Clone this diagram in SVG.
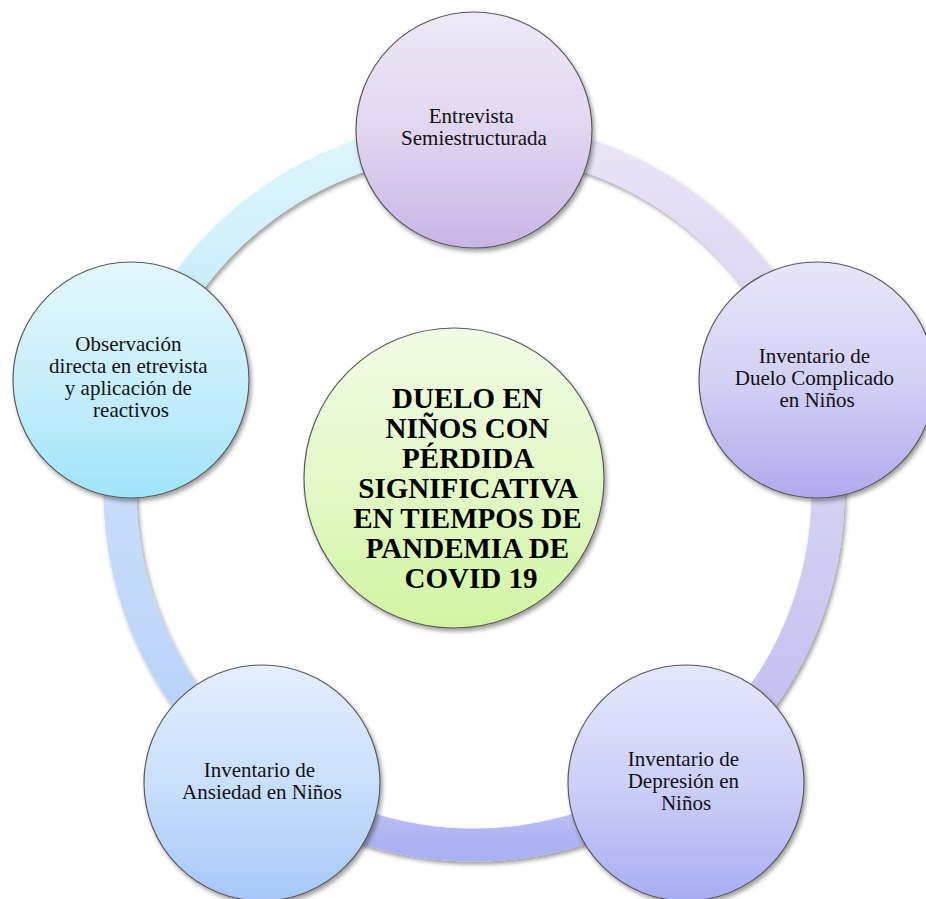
<svg xmlns="http://www.w3.org/2000/svg" width="926" height="899" viewBox="0 0 926 899">
  <defs>
    <filter id="shadow" filterUnits="userSpaceOnUse" x="0" y="0" width="926" height="899">
      <feDropShadow dx="2" dy="3" stdDeviation="2.2" flood-color="#000" flood-opacity="0.38"/>
    </filter>
    <!-- node fills -->
    <linearGradient id="gTop" x1="0" y1="0" x2="0" y2="1">
      <stop offset="0" stop-color="#efe9f7"/>
      <stop offset="0.5" stop-color="#e1d6f0"/>
      <stop offset="1" stop-color="#c8b6e6"/>
    </linearGradient>
    <linearGradient id="gRight" x1="0" y1="0" x2="0" y2="1">
      <stop offset="0" stop-color="#e8e6f9"/>
      <stop offset="0.5" stop-color="#d4d0f4"/>
      <stop offset="1" stop-color="#b1a9ee"/>
    </linearGradient>
    <linearGradient id="gBR" x1="0" y1="0" x2="0" y2="1">
      <stop offset="0" stop-color="#e5e8fc"/>
      <stop offset="0.5" stop-color="#cdd0f7"/>
      <stop offset="1" stop-color="#a8adf2"/>
    </linearGradient>
    <linearGradient id="gBL" x1="0" y1="0" x2="0" y2="1">
      <stop offset="0" stop-color="#e4effd"/>
      <stop offset="0.5" stop-color="#cadffb"/>
      <stop offset="1" stop-color="#a6c8f7"/>
    </linearGradient>
    <linearGradient id="gLeft" x1="0" y1="0" x2="0" y2="1">
      <stop offset="0" stop-color="#e4f7fd"/>
      <stop offset="0.5" stop-color="#c8effb"/>
      <stop offset="1" stop-color="#a0e4f9"/>
    </linearGradient>
    <linearGradient id="gCenter" x1="0" y1="0" x2="0" y2="1">
      <stop offset="0" stop-color="#f2fbe6"/>
      <stop offset="0.5" stop-color="#e3f9c8"/>
      <stop offset="1" stop-color="#d2f5a2"/>
    </linearGradient>
    <!-- ring segment fills -->
    <linearGradient id="aTL" x1="0" y1="0" x2="0" y2="1">
      <stop offset="0" stop-color="#def5fc"/>
      <stop offset="1" stop-color="#bfebfa"/>
    </linearGradient>
    <linearGradient id="aTR" x1="0" y1="0" x2="0" y2="1">
      <stop offset="0" stop-color="#ebe5f7"/>
      <stop offset="1" stop-color="#d8cdee"/>
    </linearGradient>
    <linearGradient id="aR" x1="0" y1="0" x2="0" y2="1">
      <stop offset="0" stop-color="#dddbf7"/>
      <stop offset="1" stop-color="#bfbaef"/>
    </linearGradient>
    <linearGradient id="aB" x1="0" y1="0" x2="0" y2="1">
      <stop offset="0" stop-color="#cdd0f8"/>
      <stop offset="1" stop-color="#abb1f2"/>
    </linearGradient>
    <linearGradient id="aL" x1="0" y1="0" x2="0" y2="1">
      <stop offset="0" stop-color="#d2e3fc"/>
      <stop offset="1" stop-color="#b4d0f8"/>
    </linearGradient>
  </defs>
  <style>
    .arc { fill: none; stroke-width: 33; filter: url(#shadow); }
    .node { stroke: #5a5a5a; stroke-width: 1.2; filter: url(#shadow); }
    .label { font-family: "Liberation Serif", "Times New Roman", serif; font-size: 21px; fill: #111; text-anchor: middle; }
    .title { font-family: "Liberation Serif", "Times New Roman", serif; font-size: 29px; font-weight: bold; fill: #000; text-anchor: middle; }
  </style>

  <rect width="926" height="899" fill="#ffffff"/>

  <!-- ring arcs between the outer nodes (center 474,491) -->
  <g id="connectors">
    <path class="arc" stroke="url(#aTL)" d="M 137.3 381.6 A 354 354 0 0 1 474 137"/>
    <path class="arc" stroke="url(#aTR)" d="M 474 137 A 354 354 0 0 1 810.7 381.6"/>
    <path class="arc" stroke="url(#aR)" d="M 810.7 381.6 A 354 354 0 0 1 682.1 777.4"/>
    <path class="arc" stroke="url(#aB)" d="M 682.1 777.4 A 354 354 0 0 1 265.9 777.4"/>
    <path class="arc" stroke="url(#aL)" d="M 265.9 777.4 A 354 354 0 0 1 137.3 381.6"/>
  </g>

  <g id="node-center">
    <circle class="node" cx="454" cy="478" r="150" fill="url(#gCenter)"/>
    <text class="title">
      <tspan x="471" y="408">DUELO EN</tspan>
      <tspan x="471" y="438">NIÑOS CON</tspan>
      <tspan x="471" y="468">PÉRDIDA</tspan>
      <tspan x="471" y="498">SIGNIFICATIVA</tspan>
      <tspan x="471" y="528">EN TIEMPOS DE</tspan>
      <tspan x="471" y="558">PANDEMIA DE</tspan>
      <tspan x="471" y="588">COVID 19</tspan>
    </text>
  </g>

  <g id="node-entrevista">
    <circle class="node" cx="474" cy="130" r="118" fill="url(#gTop)"/>
    <text class="label">
      <tspan x="474" y="123">Entrevista</tspan>
      <tspan x="474" y="145">Semiestructurada</tspan>
    </text>
  </g>

  <g id="node-duelo">
    <circle class="node" cx="817" cy="380" r="118" fill="url(#gRight)"/>
    <text class="label">
      <tspan x="817" y="363">Inventario de</tspan>
      <tspan x="817" y="385">Duelo Complicado</tspan>
      <tspan x="817" y="407">en Niños</tspan>
    </text>
  </g>

  <g id="node-depresion">
    <circle class="node" cx="686" cy="783" r="118" fill="url(#gBR)"/>
    <text class="label">
      <tspan x="686" y="766">Inventario de</tspan>
      <tspan x="686" y="788">Depresión en</tspan>
      <tspan x="686" y="810">Niños</tspan>
    </text>
  </g>

  <g id="node-ansiedad">
    <circle class="node" cx="262" cy="783" r="118" fill="url(#gBL)"/>
    <text class="label">
      <tspan x="262" y="777">Inventario de</tspan>
      <tspan x="262" y="799">Ansiedad en Niños</tspan>
    </text>
  </g>

  <g id="node-observacion">
    <circle class="node" cx="131" cy="380" r="118" fill="url(#gLeft)"/>
    <text class="label">
      <tspan x="131" y="351">Observación</tspan>
      <tspan x="131" y="373">directa en etrevista</tspan>
      <tspan x="131" y="395">y aplicación de</tspan>
      <tspan x="131" y="417">reactivos</tspan>
    </text>
  </g>
</svg>
